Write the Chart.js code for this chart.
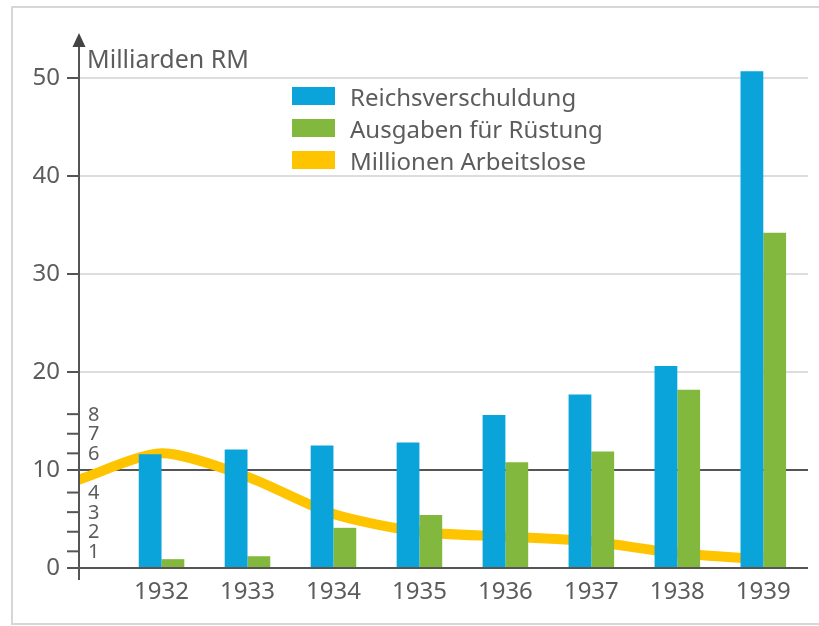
<!DOCTYPE html>
<html>
<head>
<meta charset="utf-8">
<script src="https://cdn.jsdelivr.net/npm/chart.js@4/dist/chart.umd.min.js"></script>
<style>
  html, body { margin: 0; padding: 0; background: #fff; }
  #wrap { position: relative; width: 819px; height: 626px; overflow: hidden; }
  #frame { position: absolute; left: 11px; top: 6px; width: 840px; height: 615px; border: 2px solid #d6d6d6; }
  #chart { position: absolute; left: 0; top: 0; }
  #legend { position: absolute; left: 292px; top: 80px; font-family: "Noto Sans", sans-serif; font-size: 24px; color: #5c5c5c; }
  .row { display: flex; align-items: center; height: 32px; }
  .sw { width: 43px; height: 18px; margin-right: 15px; }
</style>
</head>
<body>
<div id="wrap">
  <div id="frame"></div>
  <canvas id="chart" width="819" height="626"></canvas>
  <div id="legend"></div>
</div>
<script>
// Jahre und Werte (Milliarden RM)
const years = [1932, 1933, 1934, 1935, 1936, 1937, 1938, 1939];
const reichsverschuldung = [11.6, 12.1, 12.5, 12.8, 15.6, 17.7, 20.6, 50.7];
const ruestung = [0.9, 1.2, 4.1, 5.4, 10.8, 11.9, 18.2, 34.2];

// Arbeitslose in Millionen (Linie beginnt an der Achse)
const arbeitsloseJahre = [1931, 1932, 1933, 1934, 1935, 1936, 1937, 1938, 1939];
const arbeitslose = [4.6, 6.0, 4.8, 2.9, 2.0, 1.75, 1.5, 0.9, 0.6];

const yTicks = [0, 10, 20, 30, 40, 50];
const arbeitsloseTicks = [1, 2, 3, 4, 6, 7, 8];

const labels = ['Reichsverschuldung', 'Ausgaben für Rüstung', 'Millionen Arbeitslose'];
const colors = ['#0aa3da', '#82b83d', '#ffc400'];

const textColor = '#5c5c5c';
const darkLine = '#555555';
const lightLine = '#dddddd';

Chart.defaults.font.family = '"Noto Sans", sans-serif';

// Achse mit Pfeil, Einheit und zweite Skala (Millionen)
const achsenPlugin = {
    id: 'achsen',
    afterDraw(chart) {
        const ctx = chart.ctx;
        const x0 = chart.chartArea.left;
        const y2 = chart.scales.y2;

        ctx.save();
        ctx.strokeStyle = darkLine;
        ctx.lineWidth = 2;
        ctx.beginPath();
        ctx.moveTo(x0, 46);
        ctx.lineTo(x0, 580);
        ctx.stroke();

        ctx.fillStyle = '#444';
        ctx.beginPath();
        ctx.moveTo(x0, 33);
        ctx.lineTo(x0 - 6.5, 47);
        ctx.lineTo(x0 + 6.5, 47);
        ctx.closePath();
        ctx.fill();

        ctx.fillStyle = textColor;
        ctx.font = '25px "Noto Sans"';
        ctx.textBaseline = 'middle';
        ctx.textAlign = 'left';
        ctx.fillText('Milliarden RM', x0 + 8, 61);

        ctx.font = '20px "Noto Sans"';
        arbeitsloseTicks.forEach(v => {
            const py = y2.getPixelForValue(v);
            ctx.beginPath();
            ctx.moveTo(x0 - 12, py);
            ctx.lineTo(x0, py);
            ctx.stroke();
            ctx.fillText(String(v), x0 + 9, py + 1);
        });
        ctx.restore();
    }
};

function renderChart() {
    const ctx = document.getElementById('chart').getContext('2d');

    new Chart(ctx, {
        type: 'bar',
        data: {
            datasets: [{
                type: 'bar',
                label: labels[0],
                data: years.map((y, i) => ({ x: y, y: reichsverschuldung[i] })),
                backgroundColor: colors[0],
                categoryPercentage: 0.53,
                barPercentage: 1.0,
                clip: false,
                yAxisID: 'y'
            }, {
                type: 'bar',
                label: labels[1],
                data: years.map((y, i) => ({ x: y, y: ruestung[i] })),
                backgroundColor: colors[1],
                categoryPercentage: 0.53,
                barPercentage: 1.0,
                clip: false,
                yAxisID: 'y'
            }, {
                type: 'line',
                label: labels[2],
                data: arbeitsloseJahre.map((y, i) => ({ x: y, y: arbeitslose[i] })),
                borderColor: colors[2],
                borderWidth: 10,
                pointRadius: 0,
                tension: 0.25,
                fill: false,
                clip: { left: 0, top: 10, right: 10, bottom: 10 },
                yAxisID: 'y2'
            }]
        },
        options: {
            responsive: false,
            animation: false,
            layout: { padding: { left: 0, right: 11, top: 78, bottom: 0 } },
            plugins: {
                legend: { display: false },
                tooltip: { enabled: false }
            },
            scales: {
                x: {
                    type: 'linear',
                    min: 1931.04,
                    max: 1939.52,
                    offset: false,
                    afterBuildTicks: s => { s.ticks = years.map(v => ({ value: v })); },
                    afterFit: s => { s.height = 58; },
                    ticks: {
                        callback: v => String(v),
                        color: textColor,
                        font: { size: 24 },
                        padding: 2,
                        maxRotation: 0,
                        autoSkip: false
                    },
                    grid: { display: false },
                    border: { display: false }
                },
                y: {
                    min: 0,
                    max: 50,
                    afterBuildTicks: s => { s.ticks = yTicks.map(v => ({ value: v })); },
                    afterFit: s => { s.width = 79; },
                    ticks: {
                        color: textColor,
                        font: { size: 24 },
                        padding: 7
                    },
                    grid: {
                        color: c => (c.tick && c.tick.value <= 10 ? darkLine : lightLine),
                        lineWidth: 2,
                        tickColor: darkLine,
                        tickLength: 12
                    },
                    border: { display: false }
                },
                y2: {
                    type: 'linear',
                    position: 'left',
                    display: false,
                    min: 0.15,
                    max: 25.15
                }
            }
        },
        plugins: [achsenPlugin]
    });
}

function renderLegend() {
    const legend = document.getElementById('legend');
    labels.forEach((text, i) => {
        const row = document.createElement('div');
        row.className = 'row';
        const sw = document.createElement('div');
        sw.className = 'sw';
        sw.style.background = colors[i];
        const span = document.createElement('span');
        span.textContent = text;
        row.appendChild(sw);
        row.appendChild(span);
        legend.appendChild(row);
    });
}

document.addEventListener('DOMContentLoaded', () => {
    renderChart();
    renderLegend();
});
</script>
</body>
</html>
